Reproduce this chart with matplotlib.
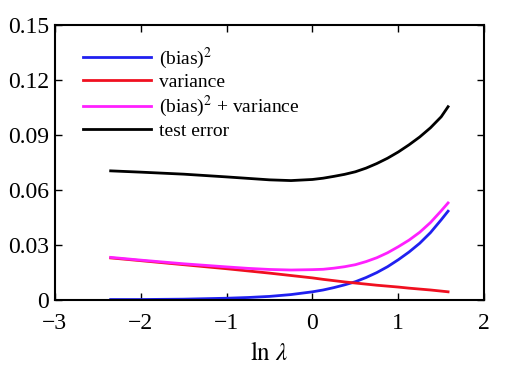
import matplotlib
matplotlib.use("Agg")
import matplotlib.pyplot as plt
from matplotlib.ticker import FuncFormatter

plt.rcParams['font.family'] = ['Liberation Serif', 'DejaVu Serif']
plt.rcParams['mathtext.fontset'] = 'stix'

ln_lambda = [-2.35, -2.0, -1.5, -1.0, -0.75, -0.5, -0.25, 0.0, 0.125, 0.25, 0.375, 0.5,
             0.625, 0.75, 0.875, 1.0, 1.125, 1.25, 1.375, 1.5, 1.58]
bias_sq = [0.0003, 0.0003, 0.0005, 0.0010, 0.0014, 0.0020, 0.0030, 0.0045, 0.0055, 0.0068,
           0.0083, 0.0100, 0.0123, 0.0150, 0.0182, 0.0220, 0.0262, 0.0310, 0.0368, 0.0438, 0.0485]
variance = [0.0230, 0.0215, 0.0193, 0.0171, 0.0159, 0.0147, 0.0134, 0.0121, 0.0113, 0.0106,
            0.0099, 0.0093, 0.0087, 0.0081, 0.0076, 0.0071, 0.0065, 0.0060, 0.0055, 0.0049, 0.0045]
bias_plus_var = [0.0233, 0.0218, 0.0198, 0.0181, 0.0173, 0.0167, 0.0164, 0.0166, 0.0168, 0.0174,
                 0.0182, 0.0193, 0.0210, 0.0231, 0.0258, 0.0291, 0.0327, 0.0370, 0.0423, 0.0487, 0.0530]
test_error = [0.0705, 0.0698, 0.0687, 0.0672, 0.0664, 0.0656, 0.0652, 0.0658, 0.0665, 0.0675,
              0.0686, 0.0700, 0.0720, 0.0745, 0.0774, 0.0808, 0.0847, 0.0890, 0.0940, 0.1000, 0.1055]

labels = [r'(bias)$^2$', 'variance', r'(bias)$^2$ + variance', 'test error']
colors = ['#2020f0', '#f01020', '#ff20ff', '#000000']

fig = plt.figure(figsize=(5.08, 3.70), dpi=100)
ax = fig.add_axes([0.108, 0.189, 0.845, 0.743])

for y, lab, c in zip([bias_sq, variance, bias_plus_var, test_error], labels, colors):
    ax.plot(ln_lambda, y, color=c, lw=2.0, label=lab, solid_joinstyle='round')

ax.set_xlim(-3, 2)
ax.set_ylim(0, 0.15)
ax.set_xticks([-3, -2, -1, 0, 1, 2])
ax.set_yticks([0, 0.03, 0.06, 0.09, 0.12, 0.15])
ax.yaxis.set_major_formatter(FuncFormatter(lambda v, p: '0' if abs(v) < 1e-9 else f'{v:.2f}'))
ax.tick_params(direction='in', top=True, right=True, length=5, width=1, labelsize=17)
ax.tick_params(axis='x', pad=9)
ax.tick_params(axis='y', pad=4)
for s in ax.spines.values():
    s.set_linewidth(1.5)
ax.set_xlabel(r'$\ln\,\lambda$', fontsize=18, labelpad=6)

ax.legend(loc='upper left', bbox_to_anchor=(0.025, 0.99), frameon=False, fontsize=14,
          handlelength=3.5, labelspacing=0.15, handletextpad=0.4)

fig.savefig('out.png', dpi=100)
